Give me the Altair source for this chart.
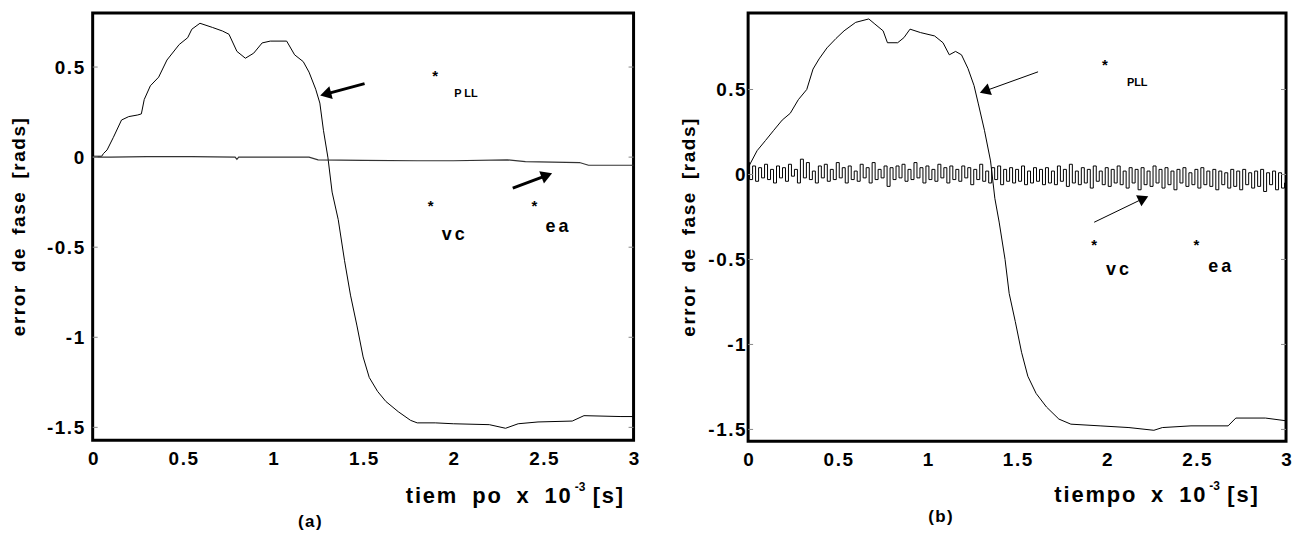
import altair as alt
import pandas as pd

FONT = "Liberation Sans"
HAIR = "\u200a"
NB = "\u00a0"


def spaced(s, gap=HAIR):
    out = []
    for ch in s:
        out.append(NB + NB if ch == " " else ch)
    return gap.join(out)


# ---------------- data: panel (a) ----------------
a_pll_t = [0, 0.05, 0.06, 0.08, 0.115, 0.16, 0.2, 0.25, 0.27, 0.286, 0.32, 0.366, 0.412, 0.48,
           0.527, 0.55, 0.595, 0.664, 0.72, 0.756, 0.80, 0.847, 0.893, 0.94, 0.985, 1.076, 1.12,
           1.168, 1.2, 1.237, 1.26, 1.28, 1.305, 1.328, 1.362, 1.397, 1.43, 1.466, 1.5, 1.534,
           1.58, 1.626, 1.695, 1.763, 1.8, 1.9, 2.0, 2.2, 2.29, 2.36, 2.47, 2.66, 2.725, 2.93, 3.0]
a_pll_v = [0.005, 0.005, 0.02, 0.04, 0.11, 0.206, 0.225, 0.234, 0.24, 0.32, 0.396, 0.444, 0.539,
           0.625, 0.663, 0.71, 0.743, 0.72, 0.70, 0.682, 0.587, 0.549, 0.577, 0.634, 0.644, 0.644,
           0.568, 0.53, 0.472, 0.377, 0.30, 0.149, -0.004, -0.194, -0.347, -0.575, -0.766, -0.937,
           -1.109, -1.223, -1.30, -1.356, -1.413, -1.461, -1.475, -1.475, -1.48, -1.485, -1.505,
           -1.48, -1.47, -1.465, -1.435, -1.44, -1.44]

a_vc_t = [0, 0.1, 0.3, 0.55, 0.79, 0.8, 0.81, 1.2, 1.25, 1.5, 1.8, 2.0, 2.3, 2.4, 2.7, 2.75, 3.0]
a_vc_v = [0, 0, 0.003, 0.003, 0, -0.012, 0, 0, -0.015, -0.018, -0.02, -0.02, -0.015, -0.025,
          -0.03, -0.045, -0.045]

# ---------------- data: panel (b) ----------------
b_pll_t = [0, 0.01, 0.05, 0.097, 0.143, 0.19, 0.235, 0.28, 0.327, 0.362, 0.396, 0.44, 0.49,
           0.535, 0.6, 0.673, 0.707, 0.753, 0.777, 0.834, 0.869, 0.903, 0.961, 1.04, 1.087,
           1.122, 1.157, 1.19, 1.226, 1.26, 1.283, 1.318, 1.352, 1.376, 1.4, 1.433, 1.456,
           1.49, 1.525, 1.56, 1.606, 1.664, 1.733, 1.80, 1.963, 2.124, 2.263, 2.31, 2.47,
           2.677, 2.72, 2.885, 3.0]
b_pll_v = [0.04, 0.06, 0.14, 0.2, 0.26, 0.32, 0.36, 0.44, 0.50, 0.62, 0.68, 0.745, 0.80, 0.845,
           0.895, 0.915, 0.885, 0.845, 0.775, 0.775, 0.805, 0.855, 0.835, 0.815, 0.775, 0.704,
           0.724, 0.704, 0.624, 0.523, 0.42, 0.26, 0.08, -0.14, -0.28, -0.5, -0.70, -0.865,
           -1.046, -1.187, -1.288, -1.368, -1.439, -1.469, -1.479, -1.489, -1.505, -1.489,
           -1.479, -1.479, -1.433, -1.433, -1.449]

b_vc_v = [0.07, -0.03, 0.05, -0.04, 0.04, -0.02, 0.06, -0.03, 0.03, -0.05,
          0.05, -0.02, 0.04, -0.04, 0.06, -0.01, 0.03, -0.05, 0.09, -0.02,
          0.07, -0.03, 0.02, -0.05, 0.05, -0.02, 0.06, -0.04, 0.03, -0.03,
          0.07, -0.02, 0.04, -0.05, 0.05, -0.03, 0.02, -0.04, 0.06, -0.02,
          0.04, -0.05, 0.07, -0.03, 0.03, -0.02, 0.05, -0.07, 0.04, -0.03,
          0.05, -0.02, 0.06, -0.04, 0.03, -0.03, 0.07, -0.02, 0.04, -0.05,
          0.05, -0.03, 0.03, -0.04, 0.06, -0.02, 0.04, -0.05, 0.05, -0.03,
          0.03, -0.04, 0.05, -0.02, 0.04, -0.06, 0.03, -0.03, 0.06, -0.04,
          0.02, -0.05, 0.04, -0.03, 0.05, -0.06, 0.03, -0.04, 0.04, -0.05,
          0.03, -0.04, 0.05, -0.06, 0.02, -0.05, 0.04, -0.04, 0.03, -0.06,
          0.04, -0.05, 0.02, -0.06, 0.05, -0.04, 0.03, -0.07, 0.06, -0.05,
          0.02, -0.06, 0.04, -0.05, 0.03, -0.08, 0.05, -0.04, 0.02, -0.06,
          0.04, -0.07, 0.03, -0.05, 0.05, -0.06, 0.02, -0.08, 0.04, -0.05,
          0.03, -0.09, 0.04, -0.06, 0.02, -0.07, 0.05, -0.05, 0.03, -0.08,
          0.04, -0.06, 0.02, -0.09, 0.03, -0.05, 0.04, -0.07, 0.01, -0.06,
          0.03, -0.08, 0.04, -0.06, 0.02, -0.07, 0.03, -0.09, 0.02, -0.06,
          0.01, -0.08, 0.03, -0.07, 0.02, -0.09, 0.03, -0.06, 0.01, -0.08,
          0.02, -0.07, 0.03, -0.10, 0.01, -0.06, 0.02, -0.09, 0.01, -0.08,
          -0.05]
b_vc_t = [i / 60 for i in range(len(b_vc_v))]

x_ticks = [0, 0.5, 1, 1.5, 2, 2.5, 3]
y_ticks = [0.5, 0, -0.5, -1, -1.5]

# annotations (x, y, text)
a_notes_x = [1.90, 2.07, 1.875, 2.0, 2.45, 2.575]
a_notes_y = [0.45, 0.353, -0.27, -0.43, -0.27, -0.39]
a_notes_s = ["*", "P LL", "*", "vc", "*", "ea"]
b_notes_x = [1.99, 2.17, 1.93, 2.06, 2.5, 2.63]
b_notes_y = [0.645, 0.54, -0.415, -0.56, -0.415, -0.545]
b_notes_s = ["*", "PLL", "*", "vc", "*", "ea"]

# arrows: tail (x,y), head centre (x,y), head angle
a_arr_x0 = [1.508, 2.33]
a_arr_y0 = [0.408, -0.172]
a_arr_x1 = [1.292, 2.519]
a_arr_y1 = [0.350, -0.101]
a_arr_ang = [255, 69]
b_arr_x0 = [1.617, 1.93]
b_arr_y0 = [0.604, -0.281]
b_arr_x1 = [1.32, 2.205]
b_arr_y1 = [0.491, -0.141]
b_arr_ang = [250, 64]

SMALL = "datum.s == 'PLL' || datum.s == 'P LL'"
LABEL_EXPR = "join(split(toString(datum.value), ''), '" + HAIR + "')"
NOTE_EXPR = "join(split(datum.s, ''), '" + HAIR + HAIR + "')"


def panel(pll_t, pll_v, vc_t, vc_v, vc_color, vc_width, vc_interp, ydom, w, h,
          nx, ny, ns, ax0, ay0, ax1, ay1, aang, shaft_w, head_size,
          lab_pad, title_pad, xt_right, xt_y, caption, cap_x, cap_y, tiem):
    xs = alt.Scale(domain=[0, 3], nice=False, zero=False)
    ys = alt.Scale(domain=ydom, nice=False, zero=False)
    xax = alt.Axis(values=x_ticks, labelExpr=LABEL_EXPR, ticks=False,
                   domain=False, grid=False, title=None, labelPadding=9,
                   labelFlush=False)
    yax = alt.Axis(values=y_ticks, labelExpr=LABEL_EXPR, ticks=False,
                   domain=False, grid=False, title=spaced("error de fase [rads]"),
                   labelPadding=lab_pad, titlePadding=title_pad)

    pll = alt.Chart(pd.DataFrame({"t": pll_t, "v": pll_v})).mark_line(
        color="black", strokeWidth=1).encode(
        x=alt.X("t:Q", scale=xs, axis=xax), y=alt.Y("v:Q", scale=ys, axis=yax))
    vc = alt.Chart(pd.DataFrame({"t": vc_t, "v": vc_v})).mark_line(
        color=vc_color, strokeWidth=vc_width, interpolate=vc_interp).encode(x="t:Q", y="v:Q")

    tk = pd.DataFrame({"v": y_ticks})
    tl = alt.Chart(tk).mark_rule(color="#888888", strokeWidth=1).encode(
        y="v:Q", x=alt.value(0), x2=alt.value(5))
    tr = alt.Chart(tk).mark_rule(color="#888888", strokeWidth=1).encode(
        y="v:Q", x=alt.value(w - 5), x2=alt.value(w))

    nd = pd.DataFrame({"x": nx, "y": ny, "s": ns})
    star = alt.Chart(nd).transform_filter("datum.s == '*'").mark_text(
        font=FONT, fontSize=15, fontWeight="bold", color="black").encode(
        x="x:Q", y="y:Q", text="s:N")
    pl = alt.Chart(nd).transform_filter(SMALL).mark_text(
        font=FONT, fontSize=11, fontWeight="bold", color="black").encode(
        x="x:Q", y="y:Q", text="s:N")
    lb = alt.Chart(nd).transform_filter("datum.s != '*' && !(" + SMALL + ")").transform_calculate(
        sp=NOTE_EXPR).mark_text(
        font=FONT, fontSize=18, fontWeight="bold", color="black").encode(
        x="x:Q", y="y:Q", text="sp:N")

    ad = pd.DataFrame({"x0": ax0, "y0": ay0, "x1": ax1, "y1": ay1, "a": aang})
    shaft = alt.Chart(ad).mark_rule(color="black", strokeWidth=shaft_w).encode(
        x="x0:Q", y="y0:Q", x2="x1:Q", y2="y1:Q")
    head = alt.Chart(ad).mark_point(shape="triangle-up", filled=True, color="black",
                                    opacity=1, size=head_size).encode(
        x="x1:Q", y="y1:Q", angle=alt.Angle("a:Q", scale=None))

    one = pd.DataFrame({"k": [0]})
    t1 = alt.Chart(one).mark_text(font=FONT, fontSize=22, fontWeight="bold", align="right",
                                  baseline="middle", color="black").encode(
        x=alt.value(xt_right), y=alt.value(xt_y), text=alt.value(spaced(tiem)))
    t2 = alt.Chart(one).mark_text(font=FONT, fontSize=12, fontWeight="bold", align="left",
                                  baseline="middle", color="black").encode(
        x=alt.value(xt_right + 4), y=alt.value(xt_y - 9), text=alt.value("-3"))
    t3 = alt.Chart(one).mark_text(font=FONT, fontSize=22, fontWeight="bold", align="left",
                                  baseline="middle", color="black").encode(
        x=alt.value(xt_right + 22), y=alt.value(xt_y), text=alt.value(spaced("[s]")))
    cap = alt.Chart(one).mark_text(font=FONT, fontSize=17, fontWeight="bold", align="center",
                                   baseline="middle", color="black").encode(
        x=alt.value(cap_x), y=alt.value(cap_y), text=alt.value(spaced(caption)))

    return alt.layer(pll, vc, tl, tr, star, pl, lb, shaft, head, t1, t2, t3, cap).properties(
        width=w, height=h)


left = panel(a_pll_t, a_pll_v, a_vc_t, a_vc_v, "#333333", 1.2, "linear", [-1.572, 0.80], 543, 429,
             a_notes_x, a_notes_y, a_notes_s, a_arr_x0, a_arr_y0, a_arr_x1, a_arr_y1, a_arr_ang,
             3, 170, 9, 18, 480, 485, "(a)", 218, 511, "tiem po x 10")
right = panel(b_pll_t, b_pll_v, b_vc_t, b_vc_v, "black", 1, "step", [-1.57, 0.95], 540, 430,
              b_notes_x, b_notes_y, b_notes_s, b_arr_x0, b_arr_y0, b_arr_x1, b_arr_y1, b_arr_ang,
              1, 150, 3, 9, 459, 484, "(b)", 193, 506, "tiempo x 10")

chart = alt.hconcat(left, right, spacing=38).properties(
    padding={"left": 0, "top": 2, "right": 0, "bottom": 0}
).configure_view(stroke="black", strokeWidth=3).configure_axis(
    labelFont=FONT, labelFontSize=19, labelFontWeight="bold", labelColor="black",
    titleFont=FONT, titleFontSize=19, titleFontWeight="bold", titleColor="black"
)

chart.save("out.html", embed_options={"renderer": "svg", "actions": False})
